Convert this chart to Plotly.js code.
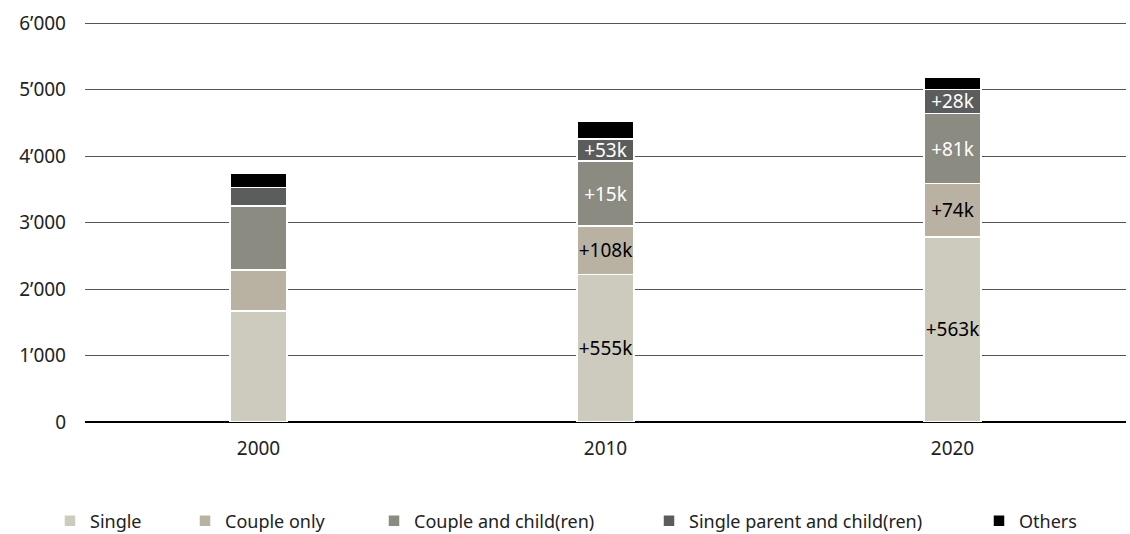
<!DOCTYPE html>
<html><head><meta charset="utf-8">
<script src="https://cdn.plot.ly/plotly-3.0.1.min.js"></script>
<style>html,body{margin:0;padding:0;background:#fff}#chart{width:1130px;height:534px}</style>
</head><body><div id="chart"></div>
<script>
const years = ["2000", "2010", "2020"];
const seriesNames = ["Single", "Couple only", "Couple and child(ren)", "Single parent and child(ren)", "Others"];
const single = [1668, 2220, 2783];
const coupleOnly = [620, 728, 802];
const coupleChildren = [958, 975, 1055];
const singleParent = [282, 335, 363];
const others = [215, 258, 186];
const singleLabels = ["", "+555k", "+563k"];
const coupleOnlyLabels = ["", "+108k", "+74k"];
const coupleChildrenLabels = ["", "+15k", "+81k"];
const singleParentLabels = ["", "+53k", "+28k"];
const othersLabels = ["", "", ""];
const colors = ["#cdcbbe", "#b9b2a2", "#8b8b81", "#5a5d5b", "#000000"];
const textColors = ["#000000", "#000000", "#ffffff", "#ffffff", "#ffffff"];
const legendTextX = [90, 225, 414, 689, 1019];

const values = [single, coupleOnly, coupleChildren, singleParent, others];
const labels = [singleLabels, coupleOnlyLabels, coupleChildrenLabels, singleParentLabels, othersLabels];
const FONT = '"Noto Sans", "Open Sans", sans-serif';
const YMAX = 6030;
const W = 1130, H = 534, L = 85, R = 4;
const y0px = 422, y6000px = 23;
const ph = (y0px - y6000px) * YMAX / 6000;
const T = y0px - ph, B = H - y0px;
const pw = W - L - R;

const traces = values.map((v, i) => ({
  type: 'bar', x: years, y: v, name: seriesNames[i],
  text: labels[i], texttemplate: '%{text}', textposition: 'inside',
  insidetextanchor: 'middle', constraintext: 'none', textangle: 0,
  textfont: {family: FONT, size: 19, color: textColors[i]},
  marker: {color: colors[i], line: {color: '#ffffff', width: 1.5}},
  width: 0.165, hoverinfo: 'skip',
  legend: i === 0 ? 'legend' : 'legend' + (i + 1)
}));

const layout = {
  width: W, height: H, barmode: 'stack',
  margin: {l: L, r: R, t: T, b: B, autoexpand: false},
  paper_bgcolor: '#fff', plot_bgcolor: '#fff',
  font: {family: FONT, size: 18, color: '#222'},
  separators: '.’',
  uniformtext: {mode: 'show', minsize: 19},
  xaxis: {type: 'category', range: [-0.5, 2.5], showgrid: false, zeroline: false,
    showline: false, ticks: '', ticklabelstandoff: 13,
    tickfont: {family: FONT, size: 19, color: '#222'}},
  yaxis: {range: [0, YMAX], dtick: 1000, tickformat: ',d', showgrid: true,
    gridcolor: '#555', gridwidth: 1, zeroline: true, zerolinecolor: '#000',
    zerolinewidth: 2.5, showline: false, ticks: '', ticklabelstandoff: 18,
    tickfont: {family: FONT, size: 19, color: '#222'}},
  showlegend: true
};
legendTextX.forEach((tx, i) => {
  const key = i === 0 ? 'legend' : 'legend' + (i + 1);
  layout[key] = {orientation: 'h', x: (tx - 40 - L) / pw, xanchor: 'left',
    y: (y0px - 521) / ph, yanchor: 'middle', bgcolor: 'rgba(0,0,0,0)',
    font: {family: FONT, size: 18, color: '#222'}, itemwidth: 30, borderwidth: 0,
    itemclick: false, itemdoubleclick: false};
});
Plotly.newPlot('chart', traces, layout, {displayModeBar: false, staticPlot: true});
</script></body></html>
